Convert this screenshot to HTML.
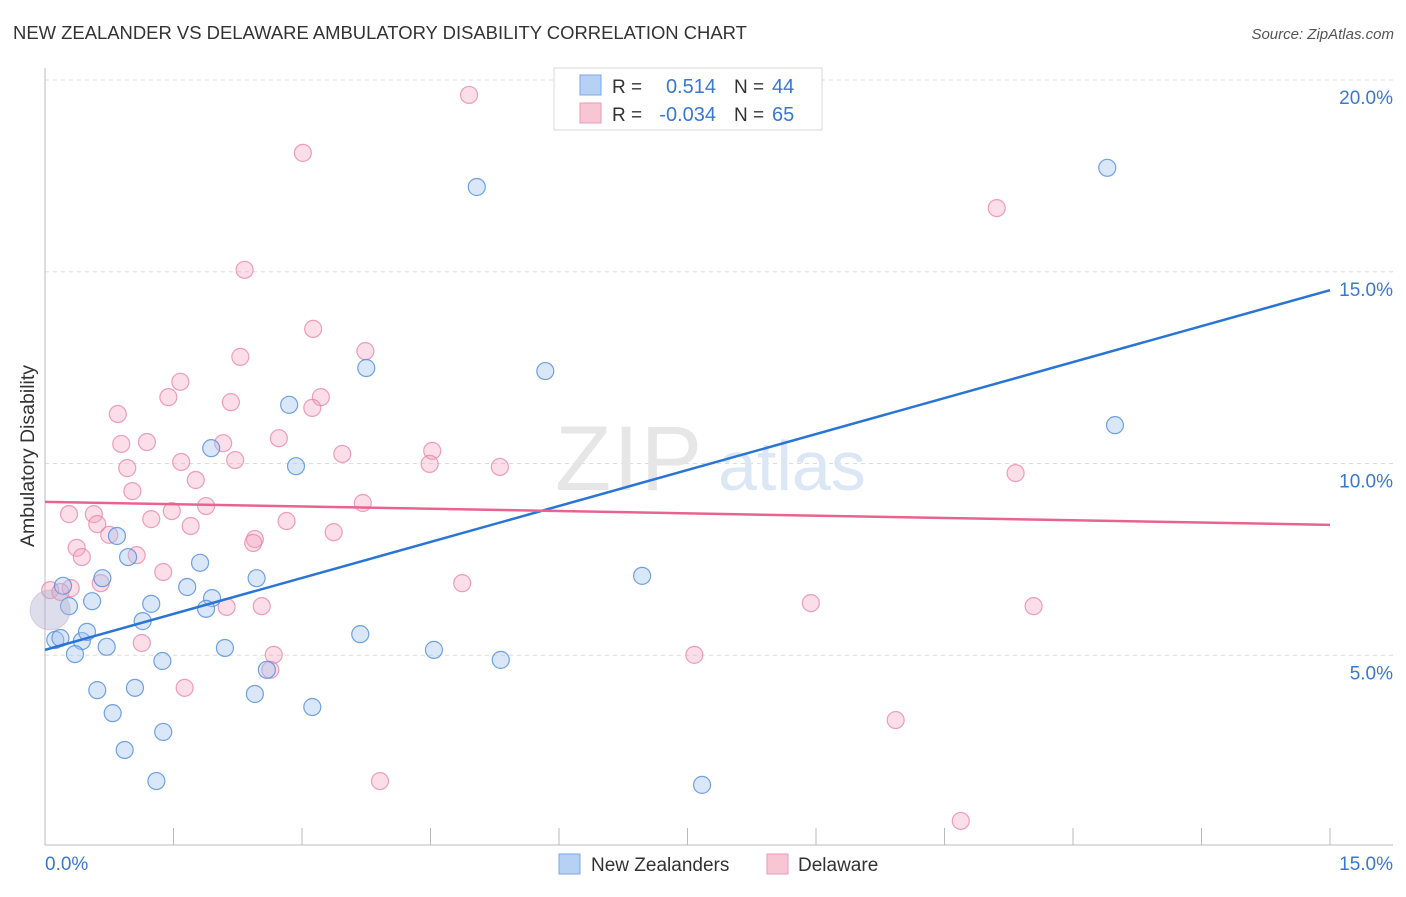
<!DOCTYPE html>
<html><head><meta charset="utf-8"><style>
body{margin:0;background:#fff;font-family:"Liberation Sans",sans-serif;}
svg text{font-family:"Liberation Sans",sans-serif;}
</style></head><body>
<svg id="chart" width="1406" height="892" viewBox="0 0 1406 892" xmlns="http://www.w3.org/2000/svg">
<text x="13" y="39" font-size="18.45" fill="#333">NEW ZEALANDER VS DELAWARE AMBULATORY DISABILITY CORRELATION CHART</text>
<text x="1394" y="39" font-size="15" fill="#555" text-anchor="end" font-style="italic">Source: ZipAtlas.com</text>
<text x="34" y="456" font-size="19.5" fill="#333" text-anchor="middle" transform="rotate(-90 34 456)">Ambulatory Disability</text>
<g id="grid"></g>
<g id="axes"></g>
<g>
<text x="555" y="490" font-size="92" fill="#e6e6e6" font-family="Liberation Serif,serif" letter-spacing="2">ZIP</text>
<text x="718" y="490" font-size="70" fill="#dbe7f5">atlas</text>
</g>
<g id="pinkPts"></g>
<g id="bluePts"></g>
<g id="lines"></g>
<g>
<rect x="554" y="68" width="268" height="62" fill="#fff" stroke="#d8d8d8"/>
<rect x="580" y="75" width="21" height="20" fill="#b7d1f4" stroke="#7aa7e6"/>
<rect x="580" y="103" width="21" height="20" fill="#f8c5d5" stroke="#ec9ab4"/>
<text x="612" y="93" font-size="19" fill="#333">R =</text>
<text x="716" y="93" font-size="20" fill="#3a78d0" text-anchor="end">0.514</text>
<text x="734" y="93" font-size="19" fill="#333">N =</text>
<text x="772" y="93" font-size="20" fill="#3a78d0">44</text>
<text x="612" y="121" font-size="19" fill="#333">R =</text>
<text x="716" y="121" font-size="20" fill="#3a78d0" text-anchor="end">-0.034</text>
<text x="734" y="121" font-size="19" fill="#333">N =</text>
<text x="772" y="121" font-size="20" fill="#3a78d0">65</text>
</g>
<g>
<rect x="559" y="854" width="21" height="20" fill="#b7d1f4" stroke="#7aa7e6"/>
<text x="591" y="871" font-size="19" fill="#333">New Zealanders</text>
<rect x="767" y="854" width="21" height="20" fill="#f8c5d5" stroke="#ec9ab4"/>
<text x="798" y="871" font-size="19" fill="#333">Delaware</text>
</g>
</svg>
<script>
const yTicks=[5,10,15,20];
const yTickLabels=["5.0%","10.0%","15.0%","20.0%"];
const xTickLabels=["0.0%","15.0%"];
const blueX=[0.21,0.28,0.55,0.12,0.18,0.43,0.49,0.35,0.72,0.67,0.84,0.97,1.24,1.14,1.66,1.81,1.95,1.88,1.37,2.10,1.94,2.85,2.93,2.47,2.59,2.45,3.12,3.68,3.75,4.54,5.32,5.04,5.84,6.97,12.40,12.49,0.61,1.05,0.79,1.38,0.93,1.30,7.67];
const blueY=[6.81,6.28,6.41,5.40,5.45,5.37,5.61,5.03,5.22,7.01,8.11,7.56,6.34,5.89,6.78,7.41,6.49,6.21,4.85,5.19,10.40,11.53,9.93,7.01,4.62,3.99,3.65,5.55,12.49,5.14,4.88,17.21,12.41,7.07,17.71,11.00,4.09,4.15,3.49,3.00,2.53,1.72,1.62];
const pinkX=[4.95,3.01,11.11,2.33,3.13,3.74,2.28,1.58,3.22,1.44,2.17,3.12,0.85,2.08,2.73,0.89,1.19,4.52,3.47,2.22,1.59,4.49,5.31,0.96,11.33,1.76,1.02,3.71,1.88,0.28,0.57,1.48,1.24,0.61,2.82,1.70,3.37,0.75,2.45,2.43,0.37,0.43,1.07,1.38,0.65,0.30,0.06,0.18,4.87,2.12,2.53,8.94,11.54,1.13,2.67,2.63,7.58,1.63,9.93,3.91,10.69];
const pinkY=[19.61,18.10,16.66,15.05,13.51,12.93,12.78,12.13,11.73,11.73,11.60,11.45,11.29,10.53,10.66,10.51,10.56,10.33,10.25,10.09,10.04,9.99,9.91,9.88,9.75,9.57,9.28,8.97,8.89,8.68,8.68,8.76,8.55,8.42,8.50,8.37,8.21,8.14,8.03,7.93,7.80,7.56,7.61,7.17,6.88,6.75,6.70,6.65,6.88,6.26,6.28,6.36,6.28,5.32,5.01,4.62,5.01,4.15,3.31,1.72,0.68];
const blueTrend=[5.14,14.52];
const pinkTrend=[9.00,8.40];
const NS="http://www.w3.org/2000/svg";
const X0=45,X1=1330,Y0=847,PXU=38.35;
function sx(v){return X0+(X1-X0)*v/15;}
function sy(v){return Y0-v*PXU;}
function mk(tag,attrs,parent){const e=document.createElementNS(NS,tag);for(const k in attrs)e.setAttribute(k,attrs[k]);parent.appendChild(e);return e;}
const grid=document.getElementById('grid');
yTicks.forEach((t,i)=>{
 const l=mk('line',{x1:45,x2:1393,y1:sy(t),y2:sy(t),stroke:'#dcdcdc','stroke-dasharray':'4,4'},grid);
 
 
 const tx=mk('text',{x:1393,y:sy(t)+24,'font-size':19,fill:'#3a78d0','text-anchor':'end'},grid);
 tx.textContent=yTickLabels[i];
 
 
});
const axes=document.getElementById('axes');
let a=mk('line',{x1:45,x2:45,y1:68,y2:845,stroke:'#bbb'},axes);


a=mk('line',{x1:45,x2:1393,y1:845,y2:845,stroke:'#bbb'},axes);


for(let i=1;i<=10;i++){
 const t=mk('line',{x1:sx(i*1.5),x2:sx(i*1.5),y1:828,y2:845,stroke:'#bbb'},axes);
 
 
}
[[45,'start'],[1393,'end']].forEach((p,i)=>{
 const t=mk('text',{x:p[0],y:870,'font-size':19,fill:'#3a78d0','text-anchor':p[1]},axes);
 t.textContent=xTickLabels[i];
 
 
});
const pg=document.getElementById('pinkPts');
pinkX.forEach((x,i)=>{
 const c=mk('circle',{cx:sx(x),cy:sy(pinkY[i]),r:8.5,fill:'rgba(244,160,188,0.35)',stroke:'rgba(232,130,165,0.75)','stroke-width':1.2},pg);
 
 
});
const bg=document.getElementById('bluePts');
blueX.forEach((x,i)=>{
 const c=mk('circle',{cx:sx(x),cy:sy(blueY[i]),r:8.5,fill:'rgba(160,196,240,0.4)',stroke:'rgba(80,140,220,0.8)','stroke-width':1.2},bg);
 
 
});
const big=mk('circle',{cx:sx(0.06),cy:sy(6.18),r:20,fill:'rgba(180,180,210,0.45)',stroke:'rgba(200,170,200,0.5)'},bg);


const lg=document.getElementById('lines');
let ln=mk('line',{x1:sx(0),y1:sy(blueTrend[0]),x2:sx(15),y2:sy(blueTrend[1]),stroke:'#2a74d6','stroke-width':2.5},lg);


ln=mk('line',{x1:sx(0),y1:sy(pinkTrend[0]),x2:sx(15),y2:sy(pinkTrend[1]),stroke:'#e8648f','stroke-width':2.5},lg);


</script>
</body></html>
